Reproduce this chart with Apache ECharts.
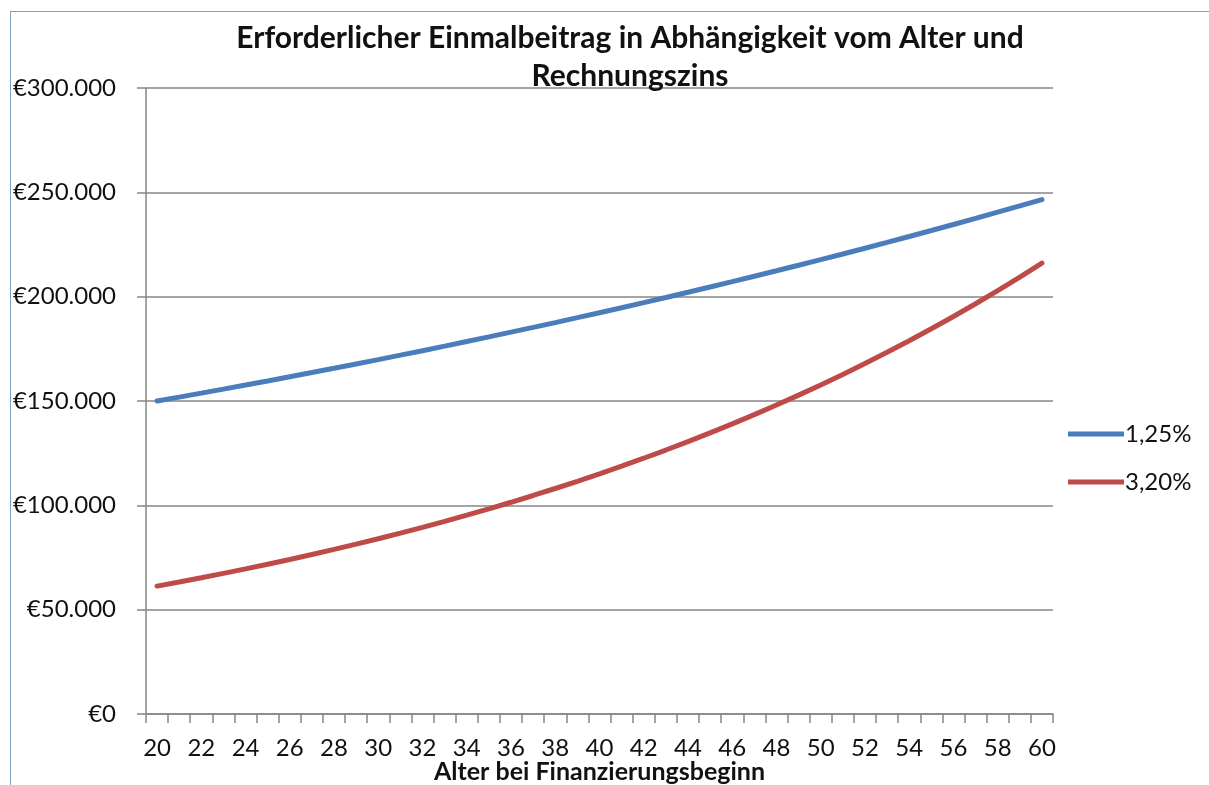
<!DOCTYPE html>
<html>
<head>
<meta charset="utf-8">
<script src="https://cdn.jsdelivr.net/npm/echarts@6/dist/echarts.min.js"></script>
<style>
  html, body { margin: 0; padding: 0; background: #fff; overflow: hidden; width: 1209px; height: 785px; }
  #frame { position: absolute; left: 10px; top: 11px; width: 1199px; height: 774px; border-left: 1px solid #7fa3c3; border-top: 1px solid #7fa3c3; box-sizing: border-box; }
  #chart { position: absolute; left: 0; top: 0; width: 1209px; height: 785px; }
</style>
</head>
<body>
<div id="frame"></div>
<div id="chart"></div>
<script>
// Alter bei Finanzierungsbeginn
var ages = [];
for (var a = 20; a <= 60; a++) ages.push(String(a));

// Rechnungszins 1,25%
var zins125 = [150000, 151875, 153773, 155696, 157642, 159612, 161607, 163628, 165673, 167744,
  169841, 171964, 174113, 176290, 178493, 180724, 182983, 185271, 187587, 189931,
  192306, 194709, 197143, 199608, 202103, 204629, 207187, 209777, 212399, 215054,
  217742, 220464, 223220, 226010, 228835, 231695, 234592, 237524, 240493, 243499, 246543];

// Rechnungszins 3,20%
var zins320 = [61300, 63262, 65286, 67375, 69531, 71756, 74052, 76422, 78867, 81391,
  83996, 86684, 89458, 92320, 95274, 98323, 101470, 104717, 108067, 111526,
  115094, 118777, 122578, 126501, 130549, 134726, 139038, 143487, 148078, 152817,
  157707, 162754, 167962, 173337, 178883, 184608, 190515, 196612, 202903, 209396, 216097];

var seriesNames = ['1,25%', '3,20%'];

var myChart = echarts.init(document.getElementById('chart'));

var font = 'Lato, "Open Sans", sans-serif';

var option = {
    backgroundColor: 'transparent',
    animation: false,
    title: {
        text: 'Erforderlicher Einmalbeitrag in Abhängigkeit vom Alter und\nRechnungszins',
        left: 625,
        top: 14,
        textAlign: 'center',
        textStyle: {
            fontFamily: font,
            fontWeight: 'bold',
            fontSize: 30,
            lineHeight: 38,
            color: '#111'
        }
    },
    legend: {
        orient: 'vertical',
        left: 1063,
        top: 417,
        itemWidth: 56,
        itemHeight: 5,
        itemGap: 24,
        icon: 'rect',
        textStyle: { fontFamily: font, fontSize: 24, color: '#111', padding: [0, 0, 0, -4] },
        data: seriesNames
    },
    grid: {
        left: 146,
        right: 156,
        top: 88,
        bottom: 71,
        outerBoundsMode: 'none',
        containLabel: false
    },
    xAxis: {
        type: 'category',
        data: ages,
        boundaryGap: true,
        name: 'Alter bei Finanzierungsbeginn',
        nameLocation: 'middle',
        nameGap: 45,
        nameMoveOverlap: false,
        nameTextStyle: { fontFamily: font, fontWeight: 'bold', fontSize: 25, color: '#111' },
        axisLine: { lineStyle: { color: '#868686', width: 1.5 } },
        axisTick: { show: true, interval: 0, length: 9, lineStyle: { color: '#868686', width: 1.5 } },
        axisLabel: { interval: 1, margin: 22, fontFamily: font, fontSize: 24, color: '#111' }
    },
    yAxis: {
        type: 'value',
        min: 0,
        max: 300000,
        interval: 50000,
        axisLine: { show: true, lineStyle: { color: '#868686', width: 1.5 } },
        axisTick: { show: true, length: 9, lineStyle: { color: '#868686', width: 1.5 } },
        splitLine: { lineStyle: { color: '#868686', width: 1.5 } },
        axisLabel: {
            margin: 30,
            fontFamily: font,
            fontSize: 24,
            color: '#111',
            formatter: function (v) {
                return '€' + String(v).replace(/\B(?=(\d{3})+(?!\d))/g, '.');
            }
        }
    },
    series: [
        {
            name: seriesNames[0],
            type: 'line',
            data: zins125,
            showSymbol: false,
            symbol: 'none',
            color: '#4a7ebb',
            lineStyle: { width: 5, cap: 'round' }
        },
        {
            name: seriesNames[1],
            type: 'line',
            data: zins320,
            showSymbol: false,
            symbol: 'none',
            color: '#be4b48',
            lineStyle: { width: 5, cap: 'round' }
        }
    ]
};

myChart.setOption(option);
</script>
</body>
</html>
